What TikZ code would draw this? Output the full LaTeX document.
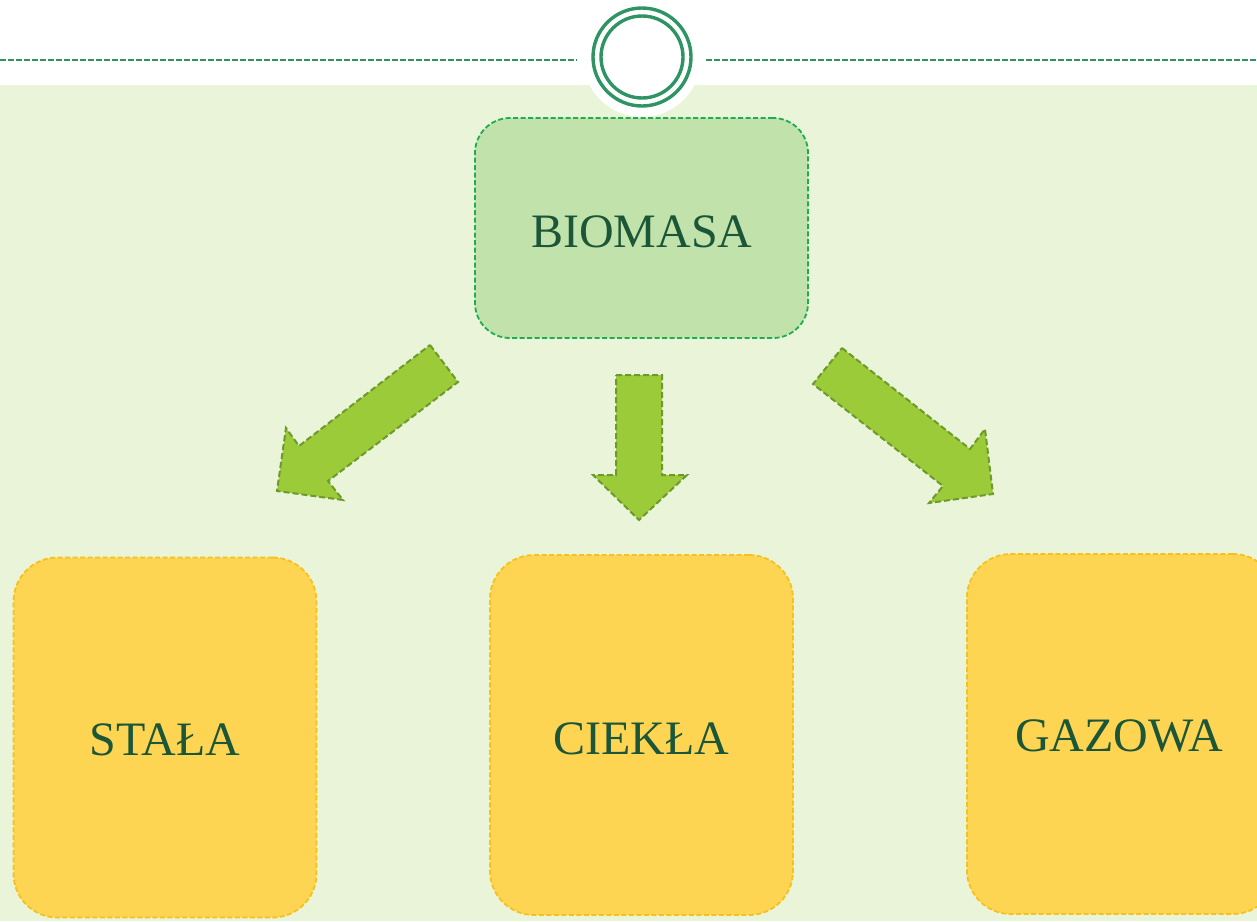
\documentclass[tikz,border=0pt]{standalone}
\usepackage{fontspec}
\setmainfont{Liberation Serif}
\definecolor{bgg}{HTML}{EAF4D8}
\definecolor{ringg}{HTML}{2E9463}
\definecolor{biofill}{HTML}{C1E3AB}
\definecolor{bioline}{HTML}{1DAF4E}
\definecolor{yfill}{HTML}{FDD553}
\definecolor{yline}{HTML}{F7C11C}
\definecolor{afill}{HTML}{9BCB38}
\definecolor{aline}{HTML}{6C9A2B}
\definecolor{txt}{HTML}{1C5638}
\tikzset{
  labelfont/.style={text=txt, font=\fontsize{48}{52}\selectfont},
  biobox/.style={draw=bioline, fill=biofill, line width=1.8pt, dash pattern=on 5pt off 2.5pt, rounded corners=35pt, minimum width=333pt, minimum height=220pt},
  ybox/.style={draw=yline, fill=yfill, line width=1.8pt, dash pattern=on 5pt off 2.5pt, rounded corners=44pt, minimum width=303pt, minimum height=360pt},
  blockarrow/.style={draw=aline, fill=afill, line width=2pt, dash pattern=on 6pt off 3pt, line join=miter},
  ring/.style={draw=ringg, line width=3.4pt}
}
\begin{document}
\begin{tikzpicture}[x=1pt,y=-1pt]
\useasboundingbox (0,0) rectangle (1257,921);
\fill[white] (0,0) rectangle (1257,921);
\fill[bgg] (0,85) rectangle (1257,921);
\fill[white] (642,58) circle (59);
\draw[ringg, line width=1.6pt, dash pattern=on 6pt off 2pt] (0,60) -- (577,60);
\draw[ringg, line width=1.6pt, dash pattern=on 6pt off 2pt] (706,60) -- (1257,60);
\node[ring, circle, minimum size=98pt, inner sep=0pt] (outer) at (642,57) {};
\node[ring, circle, minimum size=82pt, inner sep=0pt] (inner) at (642,57) {};
\node[biobox] (bio) at (641.5,228) {};
\node[labelfont] (biotext) at (642,232) {BIOMASA};
\node[ybox] (stala) at (165,737.5) {};
\node[labelfont] (stalatext) at (165,740) {STAŁA};
\node[ybox] (ciekla) at (641.5,735) {};
\node[labelfont] (cieklatext) at (641.5,739) {CIEKŁA};
\node[ybox, minimum width=310pt, anchor=west] (gazowa) at (966,734) {};
\node[labelfont] (gaztext) at (1119,736) {GAZOWA};
% block arrows
\draw[blockarrow] (430,345) -- (458,382) -- (328,481) -- (343,500) -- (277,491) -- (286,428) -- (299,446) -- cycle;
\draw[blockarrow] (616,375) -- (662,375) -- (662,475) -- (687,475) -- (639,520) -- (593,475) -- (616,475) -- cycle;
\draw[blockarrow] (842,348) -- (970,449) -- (985,429) -- (993,494) -- (929,503) -- (943,486) -- (813,384) -- cycle;
\end{tikzpicture}
\end{document}
